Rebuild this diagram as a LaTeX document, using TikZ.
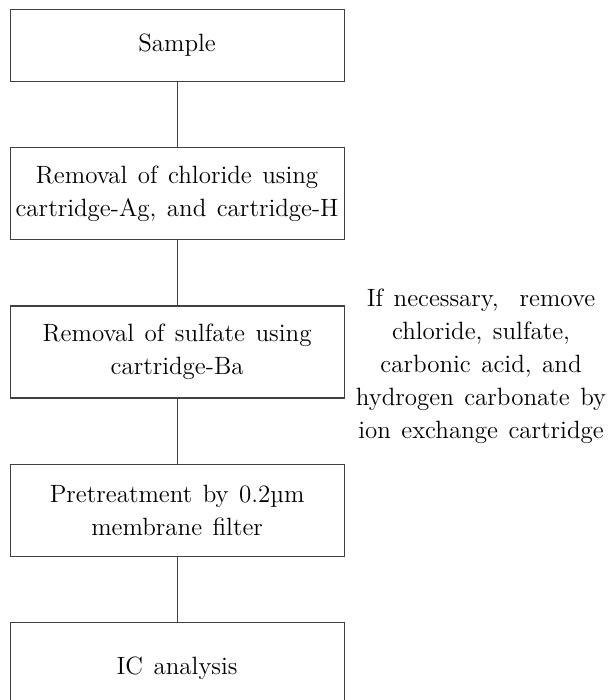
\documentclass[tikz,border=0pt]{standalone}
\usetikzlibrary{positioning}

\newcommand\boxfont{\fontsize{12.5}{16.5}\selectfont\spaceskip=0.42em plus 0.1em\relax}

\tikzset{
  stepbox/.style={draw=black!75, line width=0.6pt, minimum width=167pt,
    minimum height=46pt, inner sep=0pt, align=center, font=\boxfont},
  note/.style={align=center, inner sep=0pt, font=\boxfont},
  link/.style={draw=black!75, line width=0.6pt}
}

\begin{document}
\begin{tikzpicture}[x=1pt,y=1pt,node distance=32.5pt]
  \clip (0,0) rectangle (305,-350);
  % process steps
  \node[stepbox,minimum height=36pt,anchor=north west] (sample) at (4.75,-4.5) {Sample};
  \node[stepbox,below=of sample] (chloride) {Removal of chloride using\\cartridge-Ag, and cartridge-H};
  \node[stepbox,below=of chloride] (sulfate) {Removal of sulfate using\\cartridge-Ba};
  \node[stepbox,below=of sulfate] (filter) {Pretreatment by 0.2\textmu m\\membrane filter};
  \node[stepbox,below=of filter] (ic) {IC analysis};
  % side remark
  \node[note] (remark) at (240.5,-183) {If necessary,~~remove\\chloride, sulfate,\\carbonic acid, and\\hydrogen carbonate by\\ion exchange cartridge};
  % connectors
  \draw[link] (sample) -- (chloride);
  \draw[link] (chloride) -- (sulfate);
  \draw[link] (sulfate) -- (filter);
  \draw[link] (filter) -- (ic);
\end{tikzpicture}
\end{document}
